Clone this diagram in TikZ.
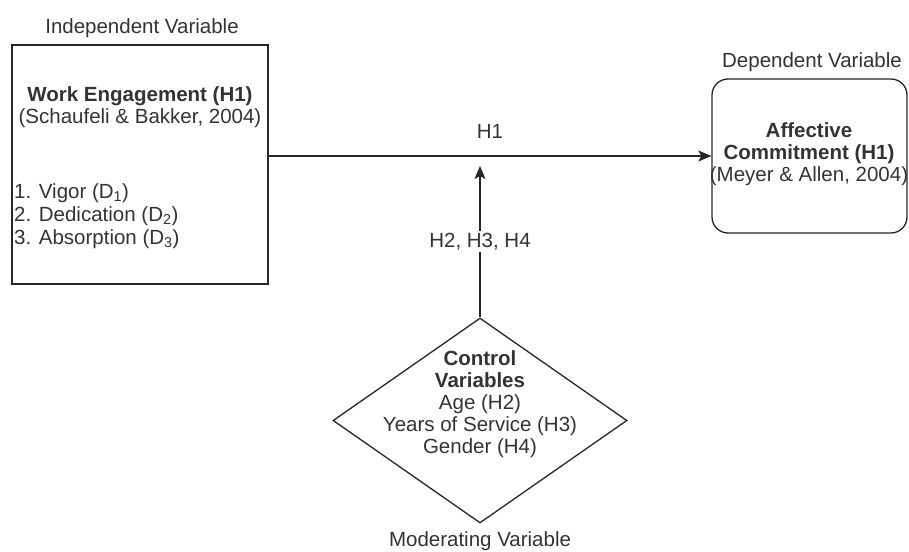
\documentclass[tikz,border=0pt]{standalone}
\usepackage{fontspec}
\setmainfont{Liberation Sans}
\usetikzlibrary{shapes.geometric,arrows.meta}
\begin{document}
\begin{tikzpicture}[x=1pt,y=-1pt,
  box/.style={draw=black!85, line width=1.3pt, inner sep=0pt},
  txt/.style={font=\fontsize{20.5}{22}\selectfont, text=black!80, inner sep=0pt, align=center},
  conn/.style={draw=black!85, line width=1.3pt, -{Stealth[length=13pt,width=11pt,inset=3pt]}}]
\useasboundingbox (0,0) rectangle (909,551);
% boxes
\node[box, minimum width=256pt, minimum height=239pt] (we) at (140,164.5) {};
\node[box, rounded corners=16pt, minimum width=195pt, minimum height=154pt] (ac) at (809.5,156) {};
\node[box, diamond, minimum width=294pt, minimum height=205pt] (cv) at (480,420.5) {};
% labels
\node[txt] (lind) at (142,28) {Independent Variable};
\node[txt] (ldep) at (812,62) {Dependent Variable};
\node[txt] (lmod) at (480,541) {Moderating Variable};
% texts
\node[txt] (tw) at (140,107.5) {\textbf{Work Engagement (H1)}\\(Schaufeli \& Bakker, 2004)};
\node[txt, align=left, anchor=west] (tl) at (14,216) {1. Vigor (D\textsubscript{1})\\[1pt]2. Dedication (D\textsubscript{2})\\[1pt]3. Absorption (D\textsubscript{3})};
\node[txt] (ta) at (809,154) {\textbf{Affective}\\\textbf{Commitment (H1)}\\(Meyer \& Allen, 2004)};
\node[txt] (tc) at (480,404.5) {\textbf{Control}\\\textbf{Variables}\\Age (H2)\\Years of Service (H3)\\Gender (H4)};
% connectors
\coordinate (tip) at (480,166);
\draw[conn] (we.east |- ac.west) -- node[txt, above=17pt] (h1) {H1} (ac.west);
\draw[conn] (cv.north) -- node[txt, fill=white, inner sep=2pt] (h234) {H2, H3, H4} (tip);
\end{tikzpicture}
\end{document}
